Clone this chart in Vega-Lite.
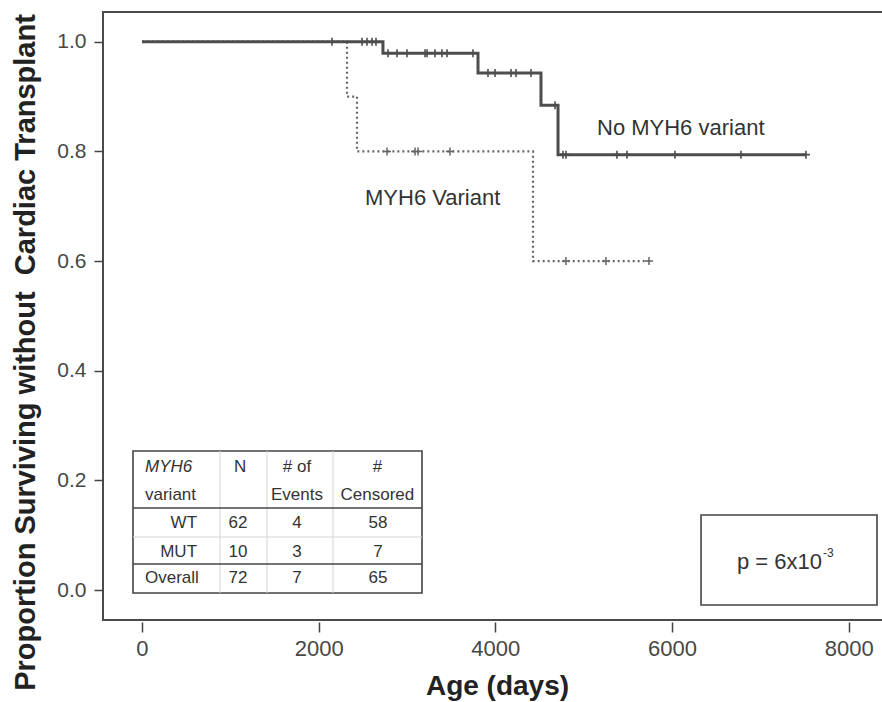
{
  "$schema": "https://vega.github.io/schema/vega-lite/v6.json",
  "width": 782,
  "height": 608,
  "autosize": "none",
  "padding": {"left": 103, "top": 12, "right": 0, "bottom": 82},
  "background": "white",
  "config": {
    "font": "Liberation Sans",
    "view": {"stroke": "#4a4a4a", "strokeWidth": 2},
    "text": {"fontSize": 17, "color": "#333333", "baseline": "middle"}
  },
  "datasets": {
    "km": [
      {"group": "MYH6 Variant", "day": 0, "surv": 1},
      {"group": "MYH6 Variant", "day": 2321, "surv": 0.9},
      {"group": "MYH6 Variant", "day": 2434, "surv": 0.8},
      {"group": "MYH6 Variant", "day": 4427, "surv": 0.6},
      {"group": "MYH6 Variant", "day": 5740, "surv": 0.6},
      {"group": "No MYH6 variant", "day": 0, "surv": 1},
      {"group": "No MYH6 variant", "day": 2728, "surv": 0.979},
      {"group": "No MYH6 variant", "day": 3804, "surv": 0.943},
      {"group": "No MYH6 variant", "day": 4517, "surv": 0.884},
      {"group": "No MYH6 variant", "day": 4710, "surv": 0.794},
      {"group": "No MYH6 variant", "day": 7517, "surv": 0.794}
    ],
    "censor": [
      {"group": "MYH6 Variant", "day": 2774, "surv": 0.8},
      {"group": "MYH6 Variant", "day": 3091, "surv": 0.8},
      {"group": "MYH6 Variant", "day": 3125, "surv": 0.8},
      {"group": "MYH6 Variant", "day": 3487, "surv": 0.8},
      {"group": "MYH6 Variant", "day": 4800, "surv": 0.6},
      {"group": "MYH6 Variant", "day": 5253, "surv": 0.6},
      {"group": "MYH6 Variant", "day": 5740, "surv": 0.6},
      {"group": "No MYH6 variant", "day": 2151, "surv": 1},
      {"group": "No MYH6 variant", "day": 2491, "surv": 1},
      {"group": "No MYH6 variant", "day": 2547, "surv": 1},
      {"group": "No MYH6 variant", "day": 2604, "surv": 1},
      {"group": "No MYH6 variant", "day": 2649, "surv": 1},
      {"group": "No MYH6 variant", "day": 2785, "surv": 0.979},
      {"group": "No MYH6 variant", "day": 2887, "surv": 0.979},
      {"group": "No MYH6 variant", "day": 3000, "surv": 0.979},
      {"group": "No MYH6 variant", "day": 3204, "surv": 0.979},
      {"group": "No MYH6 variant", "day": 3227, "surv": 0.979},
      {"group": "No MYH6 variant", "day": 3317, "surv": 0.979},
      {"group": "No MYH6 variant", "day": 3396, "surv": 0.979},
      {"group": "No MYH6 variant", "day": 3453, "surv": 0.979},
      {"group": "No MYH6 variant", "day": 3747, "surv": 0.979},
      {"group": "No MYH6 variant", "day": 3917, "surv": 0.943},
      {"group": "No MYH6 variant", "day": 3996, "surv": 0.943},
      {"group": "No MYH6 variant", "day": 4178, "surv": 0.943},
      {"group": "No MYH6 variant", "day": 4234, "surv": 0.943},
      {"group": "No MYH6 variant", "day": 4404, "surv": 0.943},
      {"group": "No MYH6 variant", "day": 4676, "surv": 0.884},
      {"group": "No MYH6 variant", "day": 4766, "surv": 0.794},
      {"group": "No MYH6 variant", "day": 4800, "surv": 0.794},
      {"group": "No MYH6 variant", "day": 5377, "surv": 0.794},
      {"group": "No MYH6 variant", "day": 5491, "surv": 0.794},
      {"group": "No MYH6 variant", "day": 6034, "surv": 0.794},
      {"group": "No MYH6 variant", "day": 6781, "surv": 0.794},
      {"group": "No MYH6 variant", "day": 7517, "surv": 0.794}
    ],
    "table": [
      {"variant": "WT", "N": 62, "events": 4, "censored": 58},
      {"variant": "MUT", "N": 10, "events": 3, "censored": 7},
      {"variant": "Overall", "N": 72, "events": 7, "censored": 65}
    ]
  },
  "layer": [
    {
      "data": {"name": "km"},
      "transform": [{"filter": "datum.group === 'MYH6 Variant'"}],
      "mark": {"type": "line", "interpolate": "step-after", "color": "#666666", "strokeWidth": 2.2, "strokeDash": [2, 3]},
      "encoding": {
        "x": {
          "field": "day", "type": "quantitative",
          "scale": {"domain": [-441.5, 8411.6], "nice": false, "zero": false},
          "axis": {
            "title": "Age (days)", "values": [0, 2000, 4000, 6000, 8000], "format": "d",
            "domain": false, "grid": false, "tickSize": 10, "tickWidth": 1.5, "tickColor": "#444444",
            "offset": 2, "labelFontSize": 22, "labelColor": "#474747", "labelPadding": 6,
            "labelFlush": false, "labelOverlap": false,
            "titleFontSize": 28, "titleFontWeight": "bold", "titleColor": "#222222",
            "titleX": 394, "titleY": 64, "titleBaseline": "middle", "titleAlign": "center"
          }
        },
        "y": {
          "field": "surv", "type": "quantitative",
          "scale": {"domain": [-0.0547, 1.0542], "nice": false, "zero": false},
          "axis": {
            "title": "Proportion Surviving without\u00a0 Cardiac Transplant",
            "values": [0, 0.2, 0.4, 0.6, 0.8, 1], "format": ".1f",
            "domain": false, "grid": false, "tickSize": 9, "tickWidth": 1.5, "tickColor": "#444444",
            "labelFontSize": 21, "labelColor": "#474747", "labelPadding": 8,
            "titleFontSize": 29, "titleFontWeight": "bold", "titleColor": "#222222",
            "titleX": -78, "titleY": 340, "titleAngle": -90, "titleBaseline": "middle", "titleAlign": "center"
          }
        }
      }
    },
    {
      "data": {"name": "km"},
      "transform": [{"filter": "datum.group === 'No MYH6 variant'"}],
      "mark": {"type": "line", "interpolate": "step-after", "color": "#4d4d4d", "strokeWidth": 3},
      "encoding": {
        "x": {"field": "day", "type": "quantitative"},
        "y": {"field": "surv", "type": "quantitative"}
      }
    },
    {
      "data": {"name": "censor"},
      "transform": [{"filter": "datum.group === 'MYH6 Variant'"}],
      "mark": {"type": "point", "shape": "M-1,0H1M0,-1V1", "filled": false, "size": 64, "strokeWidth": 1.5, "color": "#666666", "opacity": 1},
      "encoding": {
        "x": {"field": "day", "type": "quantitative"},
        "y": {"field": "surv", "type": "quantitative"}
      }
    },
    {
      "data": {"name": "censor"},
      "transform": [{"filter": "datum.group === 'No MYH6 variant'"}],
      "mark": {"type": "point", "shape": "M-1,0H1M0,-1V1", "filled": false, "size": 64, "strokeWidth": 1.6, "color": "#4d4d4d", "opacity": 1},
      "encoding": {
        "x": {"field": "day", "type": "quantitative"},
        "y": {"field": "surv", "type": "quantitative"}
      }
    },
    {
      "data": {"values": [{}]},
      "layer": [
        {"mark": {"type": "text", "align": "left", "fontSize": 22, "color": "#333333"},
         "encoding": {"x": {"datum": 5151}, "y": {"datum": 0.8426}, "text": {"value": "No MYH6 variant"}}},
        {"mark": {"type": "text", "align": "left", "fontSize": 22, "color": "#333333"},
         "encoding": {"x": {"datum": 2525}, "y": {"datum": 0.715}, "text": {"value": "MYH6 Variant"}}},
        {"mark": {"type": "rect", "fill": "white", "stroke": "#444444", "strokeWidth": 1.6},
         "encoding": {"x": {"datum": -102}, "x2": {"datum": 3170}, "y": {"datum": -0.0055}, "y2": {"datum": 0.2535}}},
        {"mark": {"type": "rule", "color": "#d4d4d4", "strokeWidth": 1},
         "encoding": {"x": {"datum": 883}, "y": {"datum": -0.0055}, "y2": {"datum": 0.2535}}},
        {"mark": {"type": "rule", "color": "#d4d4d4", "strokeWidth": 1},
         "encoding": {"x": {"datum": 1415}, "y": {"datum": -0.0055}, "y2": {"datum": 0.2535}}},
        {"mark": {"type": "rule", "color": "#d4d4d4", "strokeWidth": 1},
         "encoding": {"x": {"datum": 2162}, "y": {"datum": -0.0055}, "y2": {"datum": 0.2535}}},
        {"mark": {"type": "rule", "color": "#d4d4d4", "strokeWidth": 1},
         "encoding": {"x": {"datum": -102}, "x2": {"datum": 3170}, "y": {"datum": 0.0967}}},
        {"mark": {"type": "rule", "color": "#444444", "strokeWidth": 1.6},
         "encoding": {"x": {"datum": -102}, "x2": {"datum": 3170}, "y": {"datum": 0.1496}}},
        {"mark": {"type": "rule", "color": "#444444", "strokeWidth": 1.6},
         "encoding": {"x": {"datum": -102}, "x2": {"datum": 3170}, "y": {"datum": 0.0474}}},
        {"mark": {"type": "text", "align": "left", "fontStyle": "italic"},
         "encoding": {"x": {"datum": 34}, "y": {"datum": 0.2243}, "text": {"value": "MYH6"}}},
        {"mark": {"type": "text", "align": "left"},
         "encoding": {"x": {"datum": 34}, "y": {"datum": 0.1733}, "text": {"value": "variant"}}},
        {"mark": {"type": "text", "align": "center"},
         "encoding": {"x": {"datum": 1110}, "y": {"datum": 0.2243}, "text": {"value": "N"}}},
        {"mark": {"type": "text", "align": "center"},
         "encoding": {"x": {"datum": 1755}, "y": {"datum": 0.2243}, "text": {"value": "# of"}}},
        {"mark": {"type": "text", "align": "center"},
         "encoding": {"x": {"datum": 1755}, "y": {"datum": 0.1733}, "text": {"value": "Events"}}},
        {"mark": {"type": "text", "align": "center"},
         "encoding": {"x": {"datum": 2665}, "y": {"datum": 0.2243}, "text": {"value": "#"}}},
        {"mark": {"type": "text", "align": "center"},
         "encoding": {"x": {"datum": 2665}, "y": {"datum": 0.1733}, "text": {"value": "Censored"}}},
        {"mark": {"type": "rect", "fill": "white", "stroke": "#444444", "strokeWidth": 1.6},
         "encoding": {"x": {"datum": 6329}, "x2": {"datum": 8321}, "y": {"datum": -0.0274}, "y2": {"datum": 0.1368}}},
        {"mark": {"type": "text", "align": "left", "fontSize": 22},
         "encoding": {"x": {"datum": 6736}, "y": {"datum": 0.051}, "text": {"value": "p = 6x10"}}},
        {"mark": {"type": "text", "align": "left", "fontSize": 12},
         "encoding": {"x": {"datum": 7710}, "y": {"datum": 0.068}, "text": {"value": "-3"}}}
      ]
    },
    {
      "data": {"name": "table"},
      "transform": [{"filter": "datum.variant === 'WT'"}],
      "encoding": {"y": {"datum": 0.1222}},
      "layer": [
        {"mark": {"type": "text", "align": "right"}, "encoding": {"x": {"datum": 623}, "text": {"field": "variant"}}},
        {"mark": {"type": "text", "align": "center"}, "encoding": {"x": {"datum": 1087}, "text": {"field": "N"}}},
        {"mark": {"type": "text", "align": "center"}, "encoding": {"x": {"datum": 1755}, "text": {"field": "events"}}},
        {"mark": {"type": "text", "align": "center"}, "encoding": {"x": {"datum": 2672}, "text": {"field": "censored"}}}
      ]
    },
    {
      "data": {"name": "table"},
      "transform": [{"filter": "datum.variant === 'MUT'"}],
      "encoding": {"y": {"datum": 0.0693}},
      "layer": [
        {"mark": {"type": "text", "align": "right"}, "encoding": {"x": {"datum": 623}, "text": {"field": "variant"}}},
        {"mark": {"type": "text", "align": "center"}, "encoding": {"x": {"datum": 1087}, "text": {"field": "N"}}},
        {"mark": {"type": "text", "align": "center"}, "encoding": {"x": {"datum": 1755}, "text": {"field": "events"}}},
        {"mark": {"type": "text", "align": "center"}, "encoding": {"x": {"datum": 2672}, "text": {"field": "censored"}}}
      ]
    },
    {
      "data": {"name": "table"},
      "transform": [{"filter": "datum.variant === 'Overall'"}],
      "encoding": {"y": {"datum": 0.0219}},
      "layer": [
        {"mark": {"type": "text", "align": "left"}, "encoding": {"x": {"datum": 34}, "text": {"field": "variant"}}},
        {"mark": {"type": "text", "align": "center"}, "encoding": {"x": {"datum": 1087}, "text": {"field": "N"}}},
        {"mark": {"type": "text", "align": "center"}, "encoding": {"x": {"datum": 1755}, "text": {"field": "events"}}},
        {"mark": {"type": "text", "align": "center"}, "encoding": {"x": {"datum": 2672}, "text": {"field": "censored"}}}
      ]
    }
  ]
}
